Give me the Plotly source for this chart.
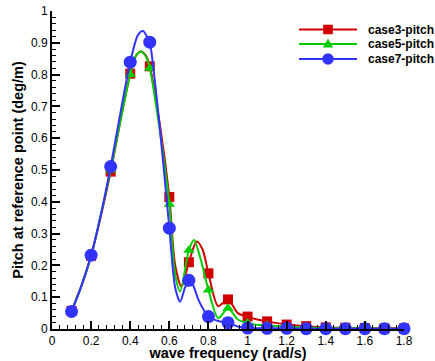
import plotly.graph_objects as go

# Marker points (every 0.1 rad/s)
freq_pts = [0.1, 0.2, 0.3, 0.4, 0.5, 0.6, 0.7, 0.8, 0.9, 1.0, 1.1, 1.2, 1.3, 1.4, 1.5, 1.6, 1.7, 1.8]
case3_pts = [0.057, 0.23, 0.495, 0.803, 0.826, 0.415, 0.21, 0.175, 0.093, 0.039, 0.024, 0.014, 0.009, 0.005, 0.004, 0.003, 0.002, 0.002]
case5_pts = [0.057, 0.23, 0.50, 0.80, 0.82, 0.392, 0.248, 0.123, 0.065, 0.019, 0.012, 0.007, 0.005, 0.003, 0.002, 0.002, 0.001, 0.001]
case7_pts = [0.055, 0.232, 0.511, 0.839, 0.902, 0.317, 0.153, 0.039, 0.02, 0.003, 0.002, 0.002, 0.001, 0.001, 0.001, 0.001, 0.001, 0.001]

# Curve (finely sampled response)
case3_x = [0.1, 0.15, 0.2, 0.25, 0.3, 0.35, 0.4, 0.43, 0.455, 0.48, 0.5, 0.55, 0.6, 0.63, 0.662, 0.7, 0.74, 0.77, 0.8, 0.85, 0.9, 0.95, 1.0, 1.05, 1.1, 1.2, 1.3, 1.4, 1.5, 1.6, 1.7, 1.8]
case3_y = [0.057, 0.135, 0.23, 0.355, 0.495, 0.655, 0.803, 0.86, 0.873, 0.86, 0.826, 0.65, 0.415, 0.2, 0.133, 0.21, 0.275, 0.25, 0.175, 0.072, 0.093, 0.05, 0.039, 0.03, 0.024, 0.014, 0.009, 0.005, 0.004, 0.003, 0.002, 0.002]
case5_x = [0.1, 0.15, 0.2, 0.25, 0.3, 0.35, 0.4, 0.43, 0.455, 0.48, 0.5, 0.55, 0.6, 0.63, 0.655, 0.7, 0.726, 0.76, 0.8, 0.85, 0.9, 0.95, 1.0, 1.05, 1.1, 1.2, 1.3, 1.4, 1.5, 1.6, 1.7, 1.8]
case5_y = [0.057, 0.135, 0.23, 0.36, 0.50, 0.655, 0.80, 0.86, 0.873, 0.857, 0.82, 0.63, 0.392, 0.17, 0.118, 0.248, 0.28, 0.22, 0.123, 0.034, 0.065, 0.03, 0.019, 0.013, 0.012, 0.007, 0.005, 0.003, 0.002, 0.002, 0.001, 0.001]
case7_x = [0.1, 0.15, 0.2, 0.25, 0.3, 0.35, 0.4, 0.44, 0.465, 0.49, 0.5, 0.55, 0.6, 0.63, 0.655, 0.68, 0.7, 0.72, 0.75, 0.8, 0.85, 0.9, 0.95, 1.0, 1.1, 1.2, 1.3, 1.4, 1.5, 1.6, 1.7, 1.8]
case7_y = [0.055, 0.135, 0.232, 0.36, 0.511, 0.68, 0.839, 0.925, 0.937, 0.915, 0.902, 0.64, 0.317, 0.13, 0.086, 0.13, 0.153, 0.14, 0.09, 0.039, 0.025, 0.02, 0.008, 0.003, 0.002, 0.002, 0.001, 0.001, 0.001, 0.001, 0.001, 0.001]

names = ["case3-pitch", "case5-pitch", "case7-pitch"]
colors = ["#d00000", "#00cc00", "#3333ff"]
symbols = ["square", "triangle-up", "circle"]
sizes = [10, 10, 13]

curves = [(case3_x, case3_y), (case5_x, case5_y), (case7_x, case7_y)]
points = [case3_pts, case5_pts, case7_pts]

# Layout geometry (pixels)
W, H = 435, 361
ML, MR, MT, MB = 52, 31, 11, 32
PW, PH = W - ML - MR, H - MT - MB


def px_x(px):
    return (px - ML) / PW


def px_y(py):
    return (H - MB - py) / PH


fig = go.Figure()
for i in range(3):
    cx, cy = curves[i]
    fig.add_trace(go.Scatter(x=cx, y=cy, mode="lines", name=names[i],
                             line=dict(color=colors[i], width=2, shape="spline", smoothing=0.8),
                             showlegend=False, hoverinfo="skip", cliponaxis=False))
    fig.add_trace(go.Scatter(x=freq_pts, y=points[i], mode="markers", name=names[i],
                             marker=dict(color=colors[i], symbol=symbols[i], size=sizes[i]),
                             showlegend=False, cliponaxis=False))

# Manual legend (line + symbol + bold label), like the original
leg_rows = [29.5, 44.0, 59.0]
leg_line = (299, 357)
leg_sym_x = 328
leg_text_x = 366
shapes = []
annotations = []
for i in range(3):
    yy = px_y(leg_rows[i])
    shapes.append(dict(type="line", xref="paper", yref="paper", x0=px_x(leg_line[0]), x1=px_x(leg_line[1]),
                       y0=yy, y1=yy, line=dict(color=colors[i], width=2), layer="above"))
    annotations.append(dict(text=names[i], xref="paper", yref="paper", x=px_x(leg_text_x), y=yy,
                            xanchor="left", yanchor="middle", showarrow=False,
                            font=dict(family="Liberation Sans, Arial", size=12, color="black", weight="bold")))
common = dict(xref="paper", yref="paper", xsizemode="pixel", ysizemode="pixel", layer="above")
# square
shapes.append(dict(type="rect", xanchor=px_x(leg_sym_x), yanchor=px_y(leg_rows[0]), x0=-4.8, x1=4.8, y0=-4.8, y1=4.8,
                   fillcolor=colors[0], line=dict(width=0), **common))
# triangle
shapes.append(dict(type="path", xanchor=px_x(leg_sym_x), yanchor=px_y(leg_rows[1]),
                   path="M-5,-3.6 L5,-3.6 L0,5.6 Z", fillcolor=colors[1], line=dict(width=0), **common))
# circle
shapes.append(dict(type="circle", xanchor=px_x(leg_sym_x), yanchor=px_y(leg_rows[2]), x0=-5.8, x1=5.8, y0=-5.8, y1=5.8,
                   fillcolor=colors[2], line=dict(width=0), **common))

axis_common = dict(showline=True, linecolor="black", linewidth=2, ticks="inside", ticklen=8, tickwidth=1.5,
                   tickcolor="black", showgrid=False, zeroline=False, mirror=False, automargin=False,
                   tickfont=dict(family="Liberation Sans, Arial", size=12, color="black"))

fig.update_layout(
    width=W, height=H,
    margin=dict(l=ML, r=MR, t=MT, b=MB),
    paper_bgcolor="white", plot_bgcolor="white",
    showlegend=False,
    shapes=shapes, annotations=annotations,
    xaxis=dict(range=[0, 1.8], dtick=0.2, tick0=0,
               minor=dict(dtick=0.04, ticks="inside", ticklen=4, tickcolor="black", tickwidth=1.2),
               title=dict(text="wave frequency (rad/s)", standoff=4,
                          font=dict(family="Liberation Sans, Arial", size=14.5, color="black", weight="bold")),
               **axis_common),
    yaxis=dict(range=[0, 1], dtick=0.1, tick0=0,
               minor=dict(dtick=0.02, ticks="inside", ticklen=4, tickcolor="black", tickwidth=1.2),
               title=dict(text="Pitch at reference point (deg/m)", standoff=4,
                          font=dict(family="Liberation Sans, Arial", size=14.5, color="black", weight="bold")),
               **axis_common),
)

fig.write_html("out.html", config={"displayModeBar": False},
               post_script="document.body.style.margin='0px';")
